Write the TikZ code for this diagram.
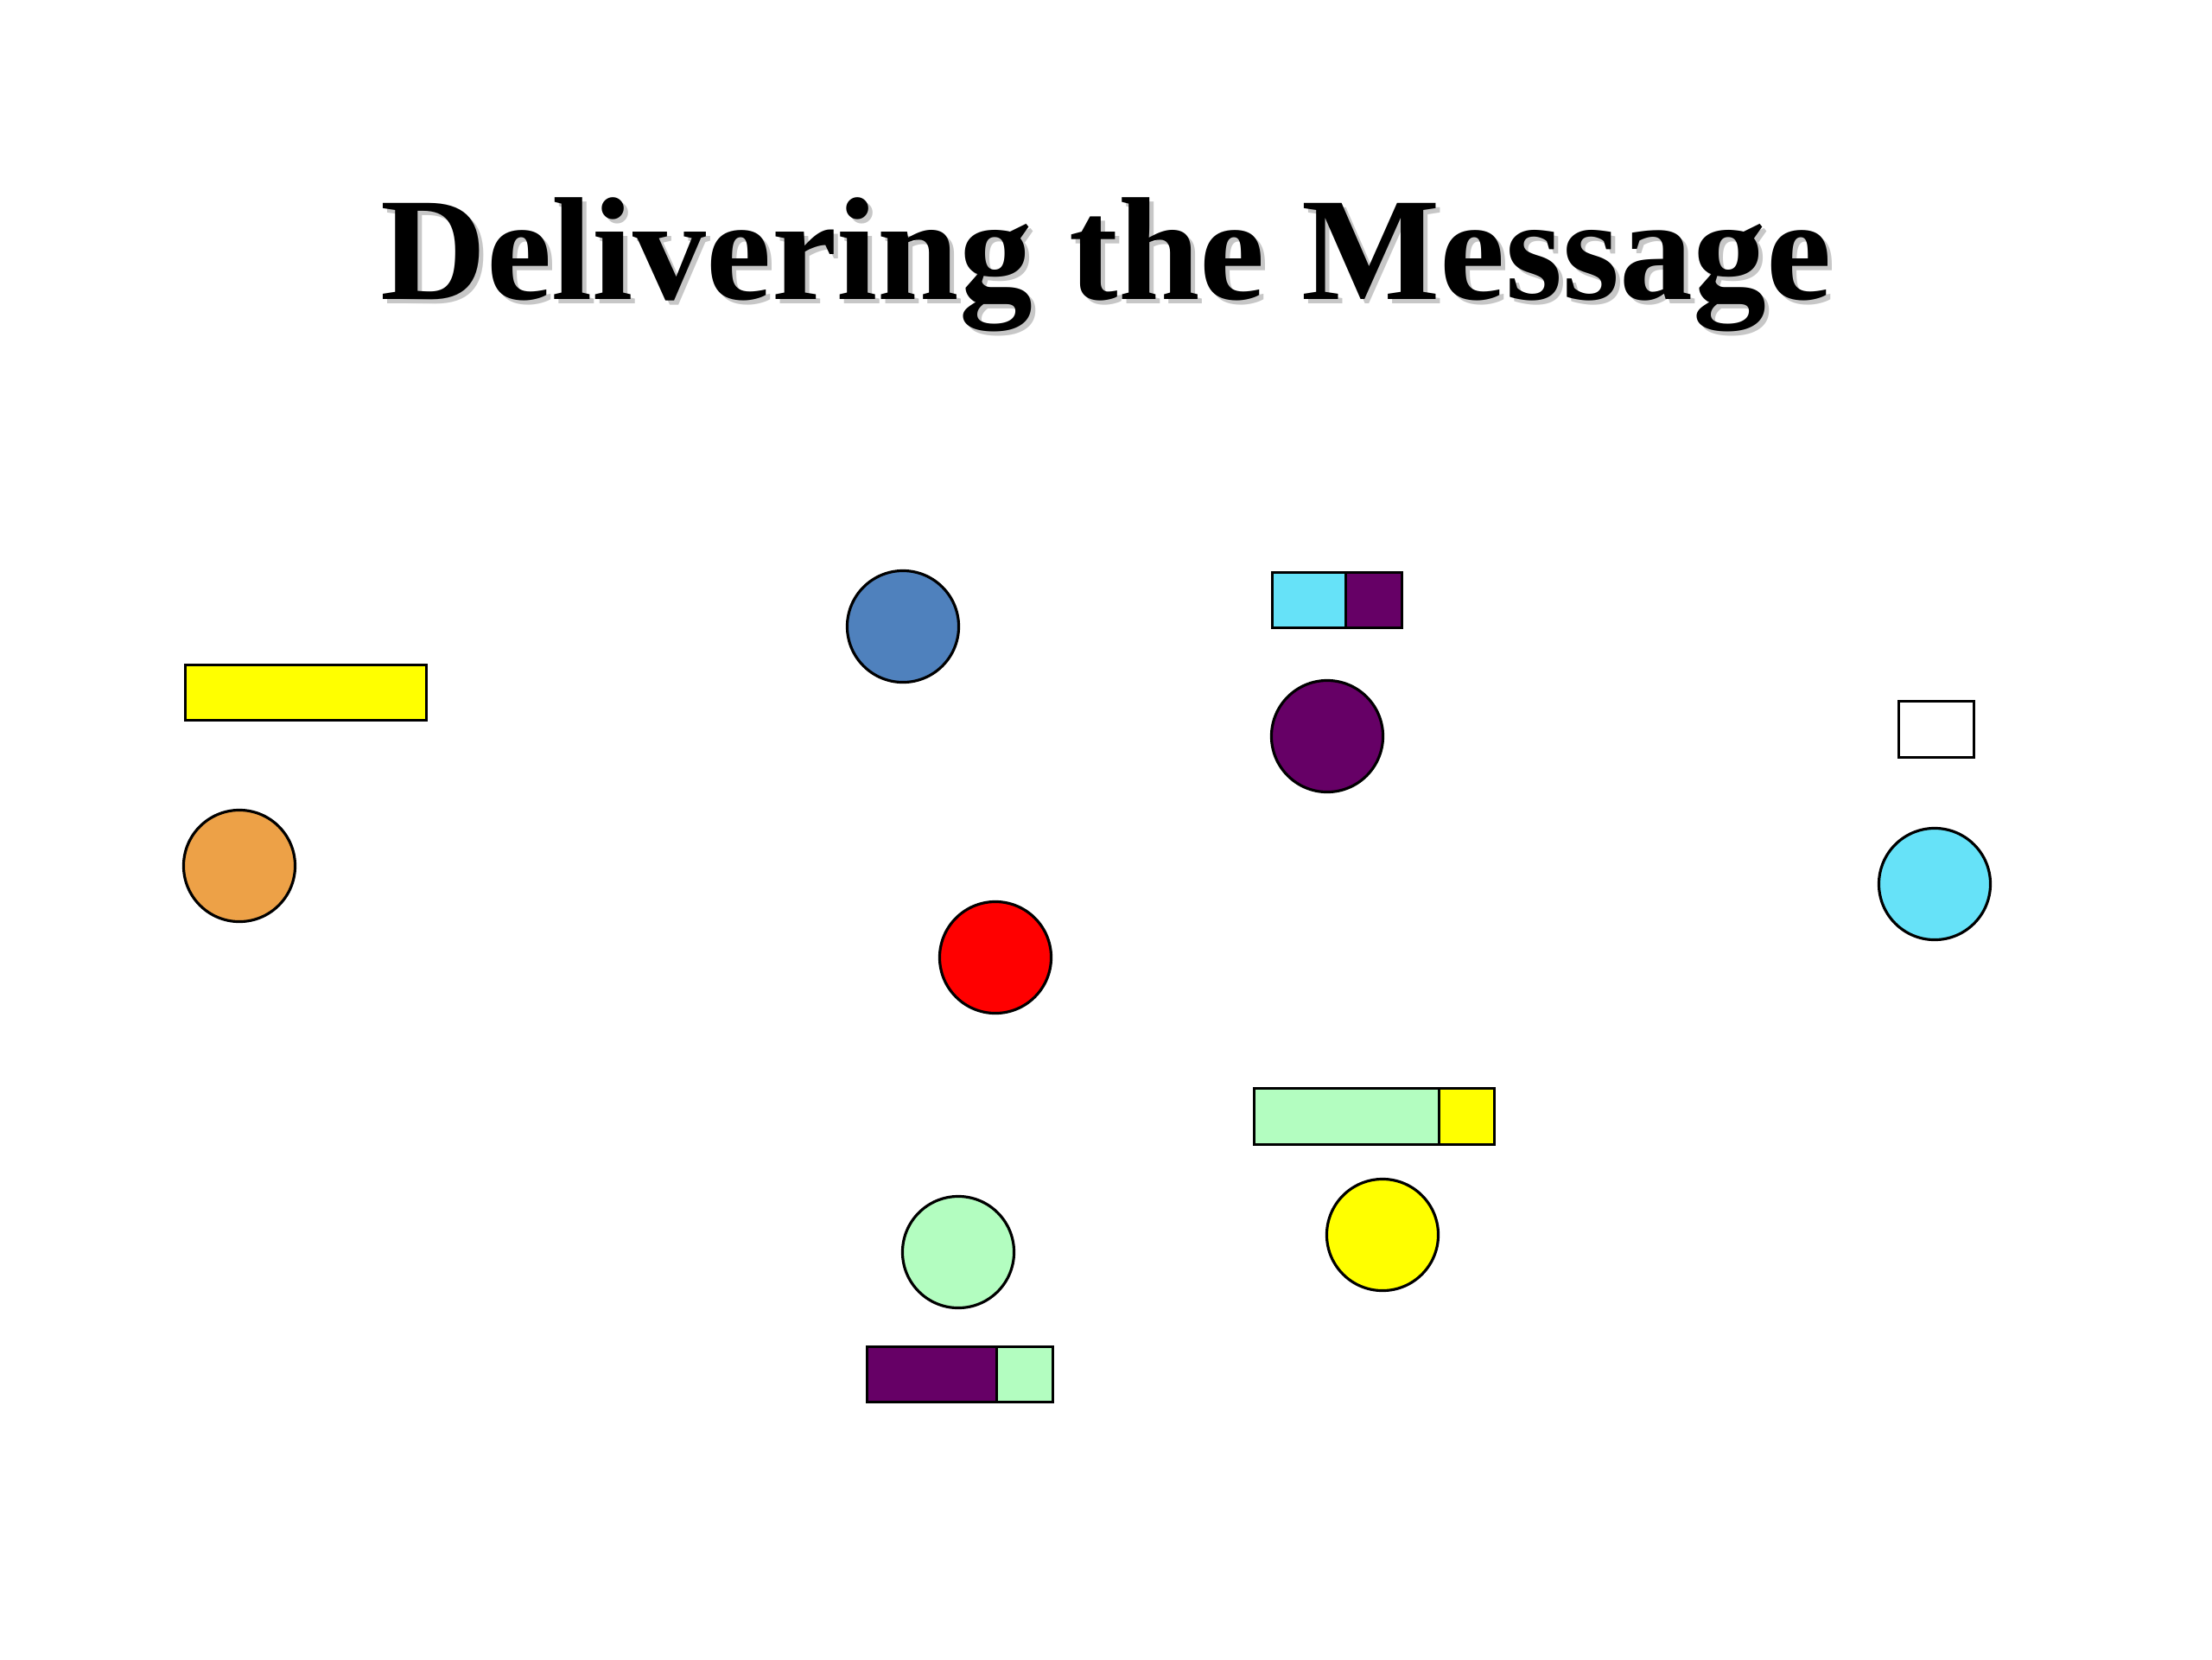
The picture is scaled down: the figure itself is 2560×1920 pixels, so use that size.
\documentclass[tikz,border=0pt]{standalone}
\usepackage{fontspec}
\setmainfont{Liberation Serif}
\definecolor{cyellow}{HTML}{FFFF00}
\definecolor{corange}{HTML}{EDA147}
\definecolor{cblue}{HTML}{4F81BD}
\definecolor{cpurple}{HTML}{660066}
\definecolor{ccyan}{HTML}{66E2F8}
\definecolor{cgreen}{HTML}{B3FDC0}
\definecolor{cred}{HTML}{FF0000}
\begin{document}
\begin{tikzpicture}[x=0.01cm,y=-0.01cm,
  dot/.style={circle,draw=black,line width=0.9pt,minimum size=1.29cm,inner sep=0pt},
  box/.style={rectangle,draw=black,line width=0.9pt,inner sep=0pt,anchor=north west},
  ttl/.style={font=\fontsize{48.3}{58}\selectfont\bfseries,anchor=base,inner sep=0pt}]
\useasboundingbox (0,0) rectangle (2560,1920);
% title with shadow
\node[ttl,text=black!22] (tshadow) at (1285,351) {Delivering the Message};
\node[ttl] (title) at (1280,346) {Delivering the Message};
% left
\node[box,fill=cyellow,minimum width=2.79cm,minimum height=0.64cm] (ybar) at (213,768) {};
\node[dot,fill=corange] (orange) at (277,1002) {};
% center
\node[dot,fill=cblue] (blue) at (1045,725) {};
\node[dot,fill=cred] (red) at (1152,1108) {};
\node[dot,fill=cgreen] (gcirc) at (1109,1449) {};
\node[box,fill=cpurple,minimum width=1.50cm,minimum height=0.64cm] (pg1) at (1002,1557) {};
\node[box,fill=cgreen,minimum width=0.65cm,minimum height=0.64cm] (pg2) at (1152,1557) {};
% center right
\node[box,fill=ccyan,minimum width=0.85cm,minimum height=0.64cm] (cp1) at (1471,661) {};
\node[box,fill=cpurple,minimum width=0.65cm,minimum height=0.64cm] (cp2) at (1556,661) {};
\node[dot,fill=cpurple] (pcirc) at (1536,852) {};
\node[box,fill=cgreen,minimum width=2.14cm,minimum height=0.65cm] (gy1) at (1450,1258) {};
\node[box,fill=cyellow,minimum width=0.64cm,minimum height=0.65cm] (gy2) at (1664,1258) {};
\node[dot,fill=cyellow] (ycirc) at (1600,1429) {};
% right
\node[box,fill=white,minimum width=0.87cm,minimum height=0.65cm] (wbox) at (2196,810) {};
\node[dot,fill=ccyan] (ccirc) at (2239,1023) {};
\end{tikzpicture}
\end{document}
